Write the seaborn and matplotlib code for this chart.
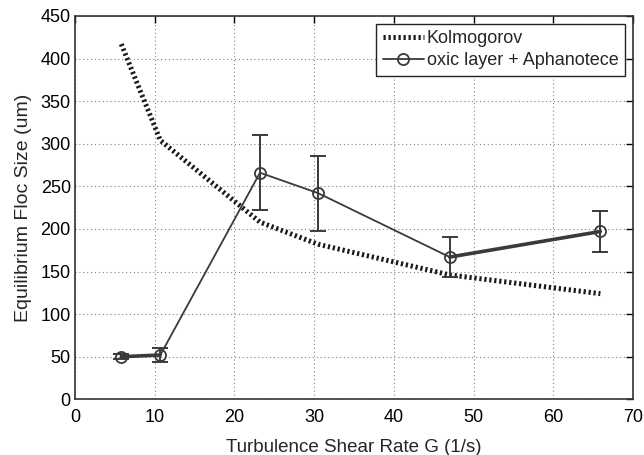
import numpy as np
import pandas as pd
import matplotlib
matplotlib.use("Agg")
import matplotlib.pyplot as plt
import seaborn as sns

# Data
shear_rate = [5.8, 10.7, 23.2, 30.5, 47.0, 65.9]
kolmogorov = [417, 304, 208, 182, 146, 124]
floc_size = [50, 52, 266, 242, 167, 197]
floc_err = [3, 8, 44, 44, 23, 24]
xticks = [0, 10, 20, 30, 40, 50, 60, 70]
yticks = [0, 50, 100, 150, 200, 250, 300, 350, 400, 450]

sns.set_style("white")
plt.rcParams['font.family'] = ['Liberation Sans', 'DejaVu Sans']

fig = plt.figure(figsize=(6.44, 4.55), dpi=100)
ax = fig.add_axes([0.1165, 0.1224, 0.8665, 0.8425])

dark = '#3a3a3a'
df = pd.DataFrame({'G': shear_rate, 'K': kolmogorov, 'F': floc_size})

sns.lineplot(data=df, x='G', y='K', ax=ax, color='#1a1a1a', lw=3.6,
             linestyle=(0, (0.45, 0.55)), label='Kolmogorov', zorder=3)
ax.errorbar(shear_rate, floc_size, yerr=floc_err, fmt='none', ecolor=dark,
            elinewidth=1.4, capsize=6, capthick=1.4, zorder=4)
sns.lineplot(data=df, x='G', y='F', ax=ax, color=dark, lw=1.3, marker='o',
             markersize=8, markerfacecolor='none', markeredgecolor=dark,
             markeredgewidth=1.3, label='oxic layer + Aphanotece', zorder=5)
# thicker overlapping segments
for idx in ([0, 1], [4, 5]):
    ax.plot([shear_rate[i] for i in idx], [floc_size[i] for i in idx],
            color=dark, lw=2.6, zorder=5)

ax.set_xlim(0, 70)
ax.set_ylim(0, 450)
ax.set_xticks(xticks)
ax.set_yticks(yticks)
ax.tick_params(direction='in', length=5, width=1, colors='black',
               labelsize=13, top=True, right=True)
ax.tick_params(axis='x', pad=7)
ax.tick_params(axis='y', pad=3)
ax.grid(True, linestyle=(0, (1, 2.5)), color='#808080', lw=0.8)
for s in ax.spines.values():
    s.set_color('#333333')
    s.set_linewidth(1.2)
ax.set_xlabel('Turbulence Shear Rate G (1/s)', fontsize=13.5, labelpad=9)
ax.set_ylabel('Equilibrium Floc Size (um)', fontsize=14, labelpad=6)

leg = ax.legend(loc='upper right', fontsize=13, frameon=True, fancybox=False,
                edgecolor='#222222', handlelength=2.3, handletextpad=0.15,
                borderpad=0.35, labelspacing=0.28, borderaxespad=0.45,
                framealpha=1)
leg.get_frame().set_linewidth(1.0)

fig.savefig('out.png', dpi=100)
